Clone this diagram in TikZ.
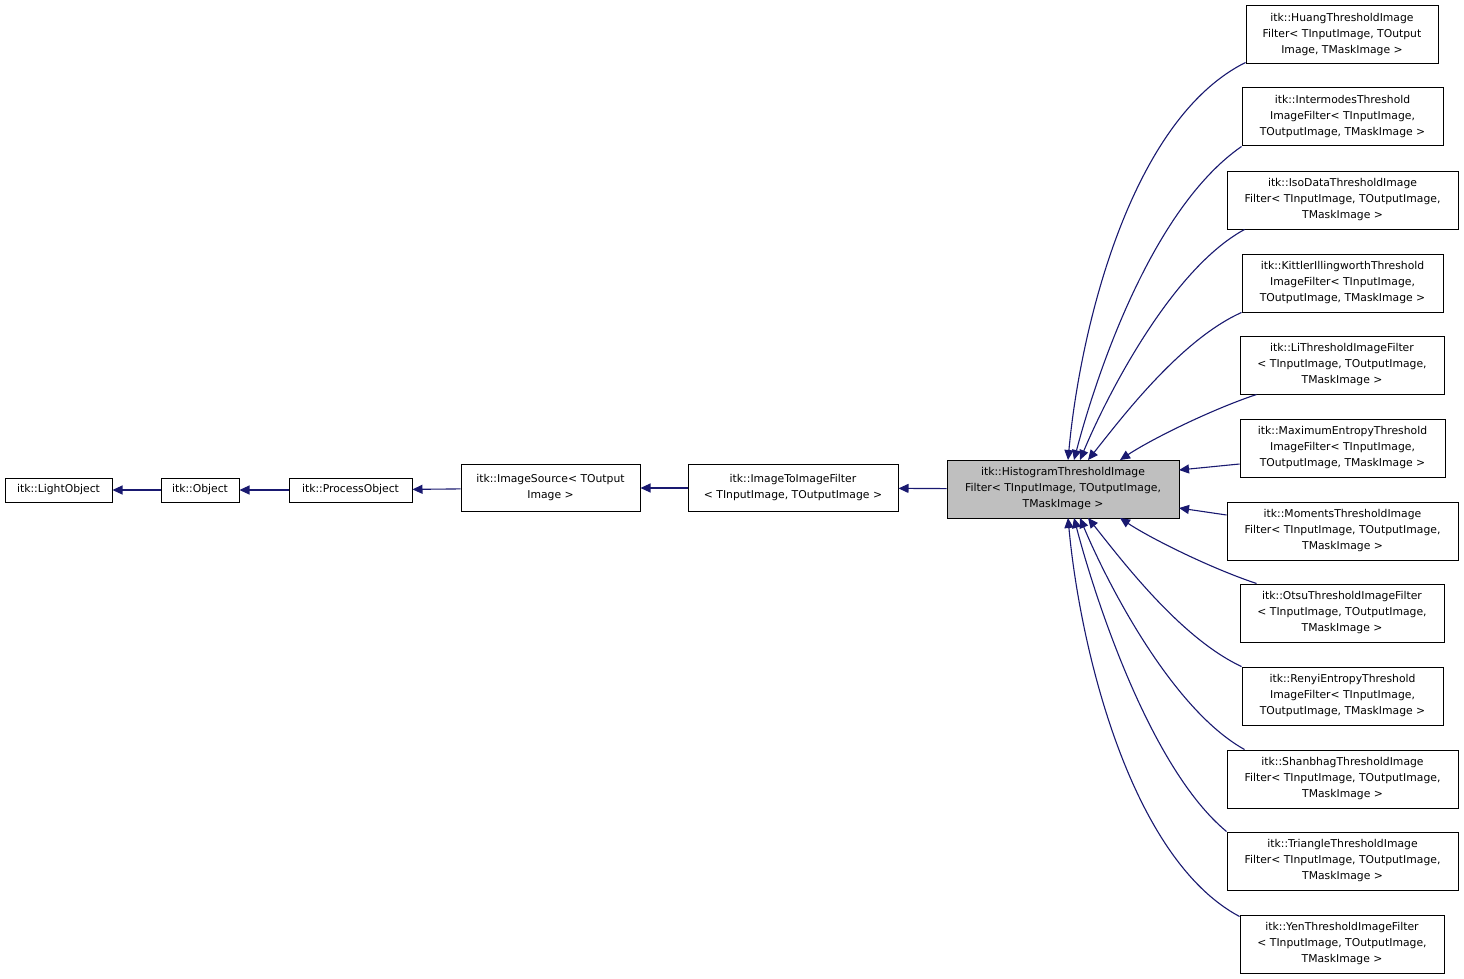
\documentclass[tikz,border=0pt]{standalone}
\usepackage{fontspec}
\setmainfont{DejaVu Sans}
\usetikzlibrary{arrows.meta}
\definecolor{edge}{HTML}{191970}
\begin{document}
\begin{tikzpicture}[x=1pt,y=-1pt,line width=1pt,
  box/.style={draw,fill=white,inner sep=0pt,align=center,font=\fontsize{10.8}{16}\selectfont},
  e/.style={draw=edge,line width=1.1pt,-{Triangle[length=10pt,width=9pt,fill=edge]}},
  ]
\useasboundingbox (0,0) rectangle (1464,979);
\fill[white] (0,0) rectangle (1464,979);
\node[box,minimum width=107,minimum height=24] (lo) at (58.5,490) {itk::LightObject};
\node[box,minimum width=78,minimum height=24] (ob) at (200,490) {itk::Object};
\node[box,minimum width=123,minimum height=24] (po) at (350.5,490) {itk::ProcessObject};
\node[box,minimum width=179,minimum height=47] (is) at (550.5,488) {itk::ImageSource< TOutput\\Image >};
\node[box,minimum width=210,minimum height=47] (ii) at (793,488) {itk::ImageToImageFilter\\< TInputImage, TOutputImage >};
\node[box,fill={rgb,255:red,191;green,191;blue,191},minimum width=232,minimum height=58] (h) at (1063,489) {itk::HistogramThresholdImage\\Filter< TInputImage, TOutputImage,\\TMaskImage >};
\draw[e] (ob) -- (lo);
\draw[e] (po) -- (ob);
\draw[e] (is) -- (po);
\draw[e] (ii) -- (is);
\draw[e] (h) -- (ii);
\tikzset{r/.style={box,minimum height=58}}
\node[r,minimum width=192] (c1) at (1342,35) {itk::HuangThresholdImage\\Filter< TInputImage, TOutput\\Image, TMaskImage >};
\node[r,minimum width=201] (c2) at (1342.5,117) {itk::IntermodesThreshold\\ImageFilter< TInputImage,\\TOutputImage, TMaskImage >};
\node[r,minimum width=231] (c3) at (1342.5,200) {itk::IsoDataThresholdImage\\Filter< TInputImage, TOutputImage,\\TMaskImage >};
\node[r,minimum width=201] (c4) at (1342.5,283) {itk::KittlerIllingworthThreshold\\ImageFilter< TInputImage,\\TOutputImage, TMaskImage >};
\node[r,minimum width=204] (c5) at (1342,365) {itk::LiThresholdImageFilter\\< TInputImage, TOutputImage,\\TMaskImage >};
\node[r,minimum width=205] (c6) at (1342.5,448) {itk::MaximumEntropyThreshold\\ImageFilter< TInputImage,\\TOutputImage, TMaskImage >};
\node[r,minimum width=231] (c7) at (1342.5,531) {itk::MomentsThresholdImage\\Filter< TInputImage, TOutputImage,\\TMaskImage >};
\node[r,minimum width=204] (c8) at (1342,613) {itk::OtsuThresholdImageFilter\\< TInputImage, TOutputImage,\\TMaskImage >};
\node[r,minimum width=201] (c9) at (1342.5,696) {itk::RenyiEntropyThreshold\\ImageFilter< TInputImage,\\TOutputImage, TMaskImage >};
\node[r,minimum width=231] (c10) at (1342.5,779) {itk::ShanbhagThresholdImage\\Filter< TInputImage, TOutputImage,\\TMaskImage >};
\node[r,minimum width=231] (c11) at (1342.5,861) {itk::TriangleThresholdImage\\Filter< TInputImage, TOutputImage,\\TMaskImage >};
\node[r,minimum width=204] (c12) at (1342,944) {itk::YenThresholdImageFilter\\< TInputImage, TOutputImage,\\TMaskImage >};
\coordinate (t1) at (1068,460); \coordinate (t2) at (1074,460);
\coordinate (t3) at (1080,460); \coordinate (t4) at (1088,460);
\coordinate (t5) at (1120,460); \coordinate (t6) at (1179,470);
\coordinate (t7) at (1179,508); \coordinate (t8) at (1120,518);
\coordinate (t9) at (1088,518); \coordinate (t10) at (1080,518);
\coordinate (t11) at (1074,518); \coordinate (t12) at (1068,518);
\draw[e] (c1.south west) ++(0,-2) .. controls (1130,120) and (1080,330) .. (t1);
\draw[e] (c2.south west) ++(0,0) .. controls (1150,210) and (1095,380) .. (t2);
\draw[e] (c3.south west) ++(18,0) .. controls (1170,270) and (1105,400) .. (t3);
\draw[e] (c4.south west) ++(0,0) .. controls (1180,340) and (1120,420) .. (t4);
\draw[e] (c5.south west) ++(17,0) .. controls (1210,410) and (1150,440) .. (t5);
\draw[e] (c6.west) ++(0,16) -- (t6);
\draw[e] (c7.west) ++(0,-16) -- (t7);
\draw[e] (c8.north west) ++(17,0) .. controls (1210,568) and (1150,538) .. (t8);
\draw[e] (c9.north west) .. controls (1180,638) and (1120,558) .. (t9);
\draw[e] (c10.north west) ++(18,0) .. controls (1170,708) and (1105,578) .. (t10);
\draw[e] (c11.north west) .. controls (1150,768) and (1095,598) .. (t11);
\draw[e] (c12.north west) ++(0,2) .. controls (1130,858) and (1080,648) .. (t12);
\end{tikzpicture}
\end{document}
